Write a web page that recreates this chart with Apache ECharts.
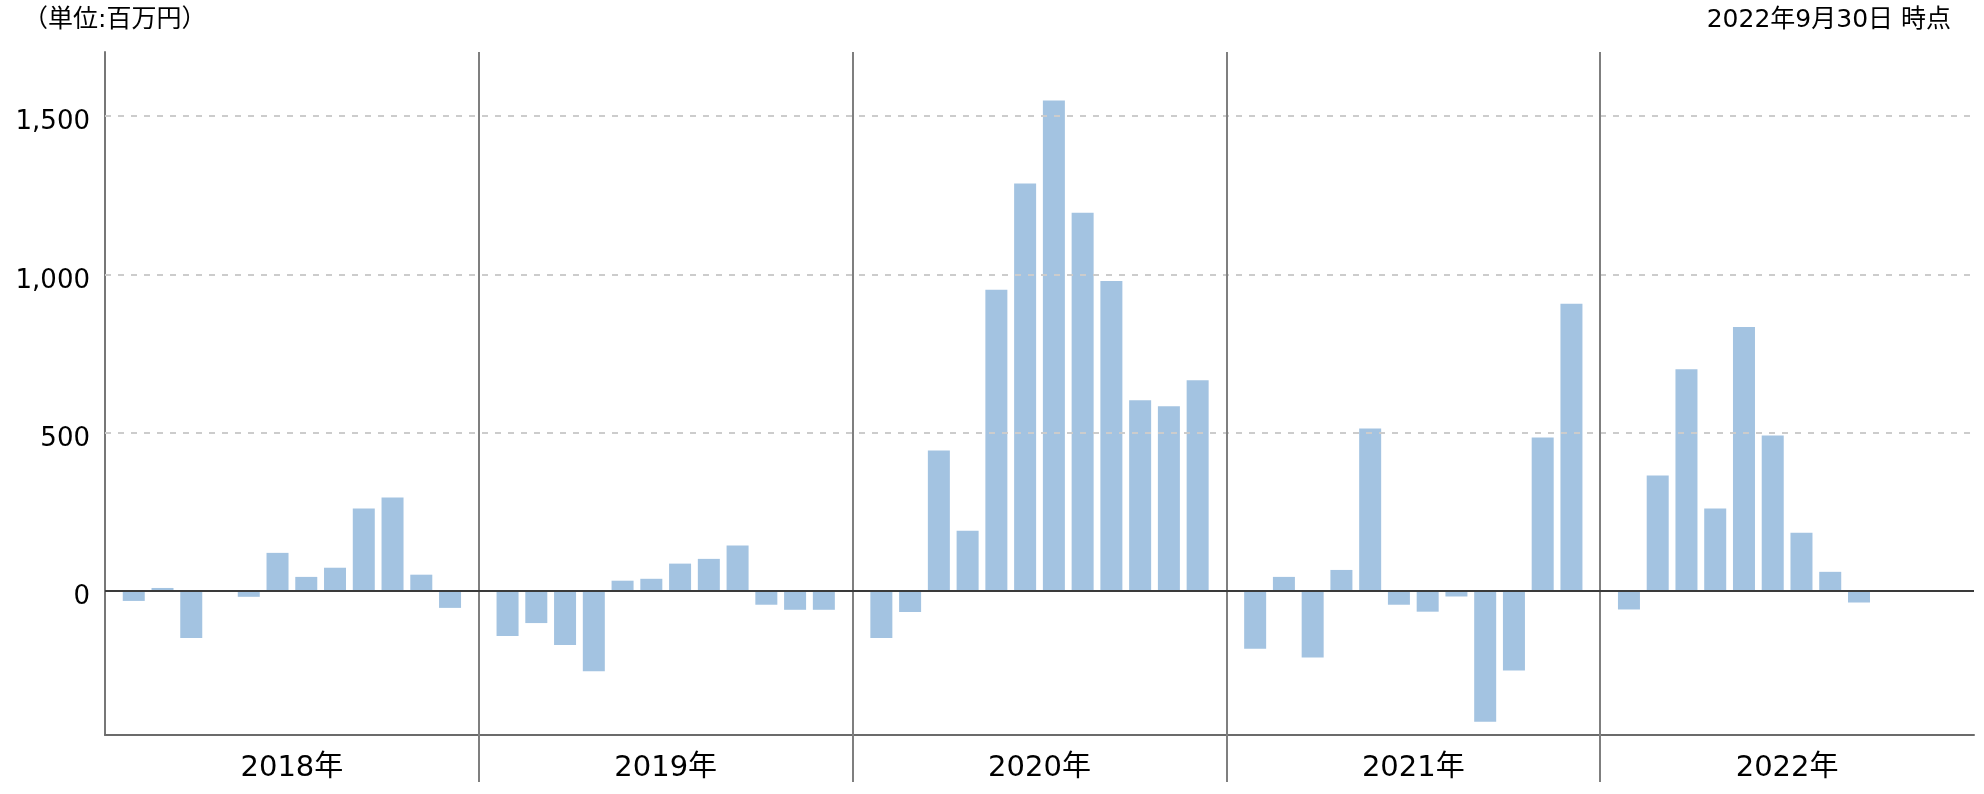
<!DOCTYPE html>
<html>
<head>
<meta charset="utf-8">
<script src="https://cdn.jsdelivr.net/npm/echarts@6/dist/echarts.min.js"></script>
<style>
html,body{margin:0;padding:0;background:#fff;}
#chart{width:1984px;height:794px;}
</style>
</head>
<body>
<div id="chart"></div>
<script>
// ---- data ----
const years = ['2018年', '2019年', '2020年', '2021年', '2022年'];
const v2018 = [-33, 8, -150, 0, -20, 119, 43, 72, 259, 294, 50, -55];
const v2019 = [-144, -103, -172, -255, 31, 37, 85, 100, 142, -45, -61, -61];
const v2020 = [-150, -68, 443, 189, 951, 1287, 1550, 1195, 979, 602, 583, 665];
const v2021 = [-184, 43, -212, 65, 512, -45, -67, -19, -415, -253, 484, 907];
const v2022 = [-60, 364, 700, 259, 833, 490, 183, 59, -38];
const yTickValues = [0, 500, 1000, 1500];
const gridValues = [500, 1000, 1500];
const unitLabel = '（単位:百万円）';
const asOfLabel = '2022年9月30日 時点';

// ---- build ----
const yearValues = [v2018, v2019, v2020, v2021, v2022];
const SLOTS = 13; // 12 months + half-slot padding each side
const barData = [];
yearValues.forEach((vals, yi) => {
  vals.forEach((v, m) => barData.push([yi * SLOTS + m + 1, v]));
});
const separators = [];
for (let i = 1; i < years.length; i++) separators.push(i * SLOTS);
const labelPos = years.map((_, i) => i * SLOTS + SLOTS / 2);

const FONT = "'DejaVu Sans', 'Noto Sans CJK JP', sans-serif";
const chart = echarts.init(document.getElementById('chart'), null, {renderer: 'canvas'});
const markData = [];
gridValues.forEach(g => markData.push({yAxis: g, lineStyle: {color: '#cccccc', width: 2, type: [6, 7]}}));
separators.forEach(s => markData.push({xAxis: s, lineStyle: {color: '#7f7f7f', width: 2, type: 'solid'}}));
markData.push({yAxis: 0, lineStyle: {color: '#3a3a3a', width: 2, type: 'solid'}});

chart.setOption({
  animation: false,
  backgroundColor: '#ffffff',
  textStyle: {fontFamily: FONT},
  title: [
    {text: unitLabel, left: 18, top: 3, textStyle: {fontFamily: FONT, fontSize: 25, fontWeight: 'normal', color: '#000'}},
    {text: asOfLabel, right: 28, top: 3, textStyle: {fontFamily: FONT, fontSize: 25, fontWeight: 'normal', color: '#000'}}
  ],
  grid: {left: 105, right: 10, top: 52, bottom: 59, containLabel: false},
  xAxis: {
    type: 'value',
    min: 0,
    max: years.length * SLOTS,
    interval: SLOTS,
    axisLine: {show: true, onZero: false, lineStyle: {color: '#6b6b6b', width: 2}},
    axisTick: {show: true, customValues: separators, length: 47, lineStyle: {color: '#7f7f7f', width: 2}},
    axisLabel: {
      show: true, customValues: labelPos, margin: 19, fontSize: 29, color: '#000', fontFamily: FONT,
      formatter: v => years[Math.floor(v / SLOTS)]
    },
    splitLine: {show: false}
  },
  yAxis: {
    type: 'value',
    min: -457,
    max: 1703,
    axisLine: {show: true, lineStyle: {color: '#777777', width: 2}},
    axisTick: {show: false},
    splitLine: {show: false},
    axisLabel: {
      show: true, customValues: yTickValues, margin: 15, fontSize: 26, color: '#000', fontFamily: FONT,
      formatter: v => '{n|' + v.toLocaleString('en-US') + '}',
      rich: {n: {fontSize: 26, fontFamily: FONT, color: '#000', padding: [13, 0, 0, 0]}}
    }
  },
  series: [{
    type: 'bar',
    data: barData,
    barWidth: 22,
    itemStyle: {color: '#a3c3e1'},
    markLine: {
      silent: true,
      symbol: 'none',
      label: {show: false},
      emphasis: {disabled: true},
      data: markData
    }
  }]
});
</script>
</body>
</html>
